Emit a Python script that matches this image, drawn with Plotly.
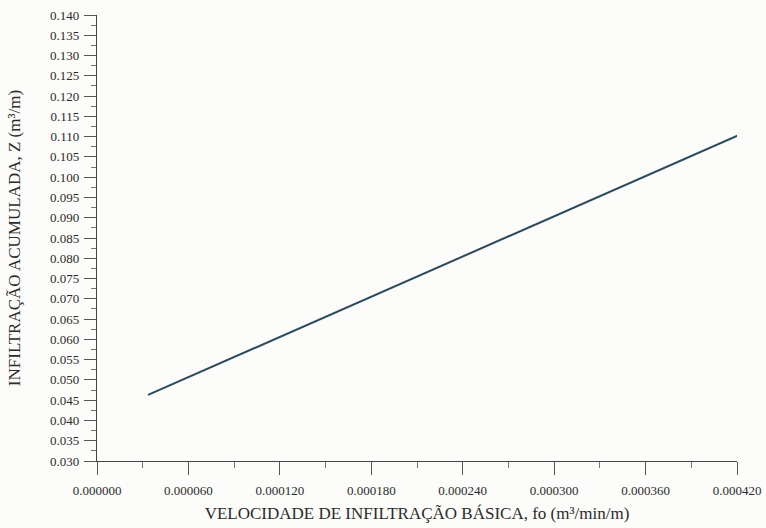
import plotly.graph_objects as go

# Data (straight line)
fo_values = [0.0000335, 0.000423]
z_values = [0.0463, 0.1107]

x_tickvals = [0.0, 0.00006, 0.00012, 0.00018, 0.00024, 0.00030, 0.00036, 0.00042]
y_tickvals = [0.030, 0.035, 0.040, 0.045, 0.050, 0.055, 0.060, 0.065, 0.070, 0.075,
              0.080, 0.085, 0.090, 0.095, 0.100, 0.105, 0.110, 0.115, 0.120, 0.125,
              0.130, 0.135, 0.140]

x_title = "VELOCIDADE DE INFILTRAÇÃO BÁSICA, fo (m³/min/m)"
y_title = "INFILTRAÇÃO ACUMULADA, Z (m³/m)"

font_family = "Liberation Serif, Times New Roman, serif"
ink = "#2b2b2b"

fig = go.Figure()
fig.add_trace(go.Scatter(
    x=fo_values, y=z_values, mode="lines",
    line=dict(color="#2c4a5c", width=2),
    showlegend=False, hoverinfo="skip", cliponaxis=False,
))

fig.update_layout(
    width=766, height=528,
    margin=dict(l=97, r=29, t=15, b=67, autoexpand=False),
    paper_bgcolor="#fcfcfa",
    plot_bgcolor="#fcfcfa",
    font=dict(family=font_family, color=ink),
    xaxis=dict(
        range=[0, 0.00042],
        automargin=False,
        tickvals=x_tickvals,
        tickformat=".6f",
        ticklabeloverflow="allow",
        ticks="outside", ticklen=13, tickwidth=1, tickcolor="#555555",
        minor=dict(ticks="outside", ticklen=6, tickwidth=1, tickcolor="#777777",
                   dtick=0.00003, tick0=0),
        showline=True, linecolor="#444444", linewidth=1.2,
        showgrid=False, zeroline=False,
        tickfont=dict(size=13, family=font_family, color=ink),
        ticklabelstandoff=4,
        title=dict(text=x_title, font=dict(size=17, family=font_family, color=ink),
                   standoff=10),
    ),
    yaxis=dict(
        range=[0.030, 0.140],
        automargin=False,
        tickvals=y_tickvals,
        tickformat=".3f",
        ticklabeloverflow="allow",
        ticks="outside", ticklen=12, tickwidth=1, tickcolor="#555555",
        minor=dict(ticks="outside", ticklen=5, tickwidth=1, tickcolor="#777777",
                   dtick=0.0025, tick0=0.030),
        showline=True, linecolor="#444444", linewidth=1.2,
        showgrid=False, zeroline=False,
        tickfont=dict(size=13, family=font_family, color=ink),
        ticklabelstandoff=2,
        title=dict(text=y_title, font=dict(size=17, family=font_family, color=ink),
                   standoff=25),
    ),
)

# remove the page's default body margin so the figure fills the window exactly
fig.write_html(
    "out.html",
    config={"displayModeBar": False},
    post_script="document.body.style.margin='0';document.body.style.overflow='hidden';",
)
